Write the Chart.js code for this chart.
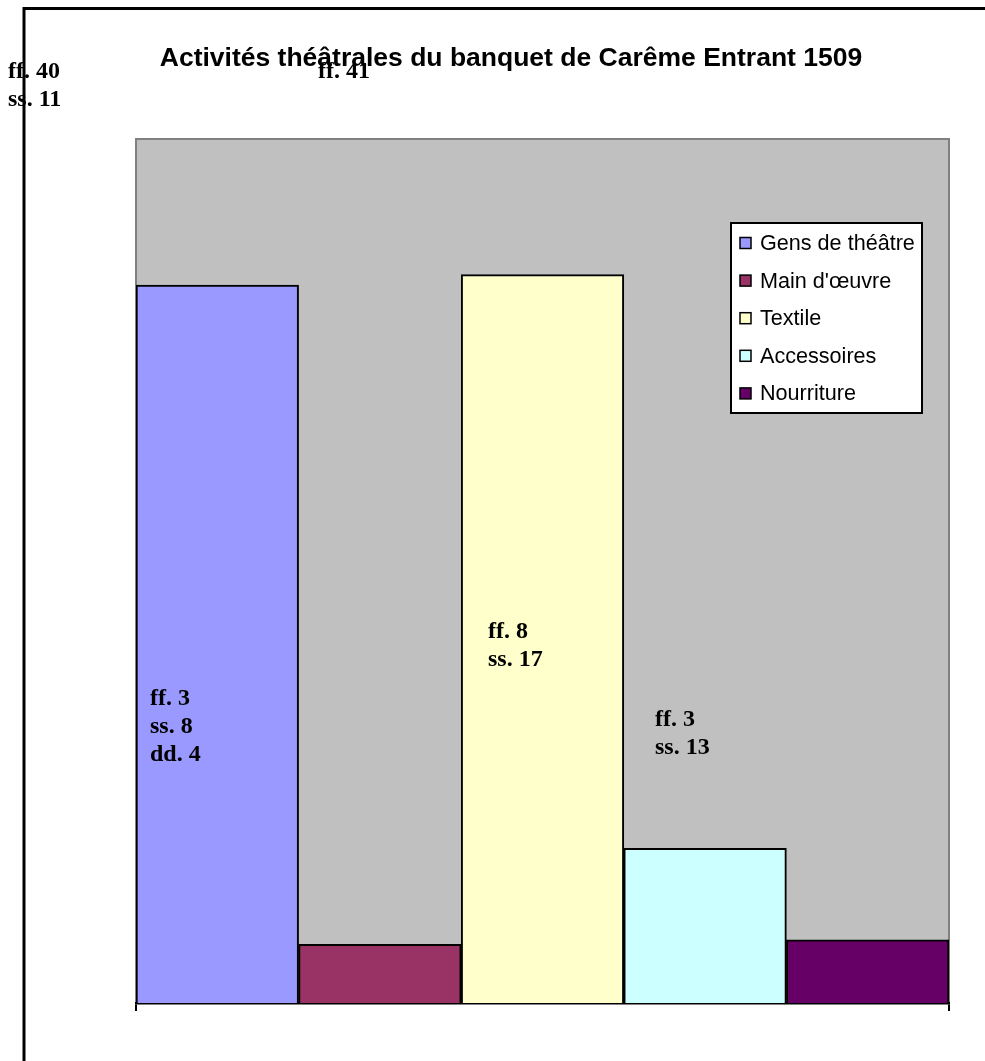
<!DOCTYPE html>
<html>
<head>
<meta charset="utf-8">
<script src="https://cdn.jsdelivr.net/npm/chart.js@4.4.1/dist/chart.umd.min.js"></script>
<style>
  html, body { margin: 0; padding: 0; background: #ffffff; }
  #wrap { position: relative; width: 985px; height: 1061px; }
  canvas { display: block; }
</style>
</head>
<body>
<div id="wrap"><canvas id="c" width="985" height="1061"></canvas></div>
<script>
// ---- data ----
const titleText = "Activités théâtrales du banquet de Carême Entrant 1509";
const categories = [""];
const seriesNames = ["Gens de théâtre", "Main d'œuvre", "Textile", "Accessoires", "Nourriture"];
const seriesValues = [83.1, 6.8, 84.3, 17.9, 7.3];
const seriesColors = ["#9999FF", "#993366", "#FFFFCC", "#CCFFFF", "#660066"];
const yMax = 100;
// free annotations (money amounts written on the chart)
const noteLines = [
  ["ff. 40", "ss. 11"],
  ["ff. 41"],
  ["ff. 3", "ss. 8", "dd. 4"],
  ["ff. 8", "ss. 17"],
  ["ff. 3", "ss. 13"]
];
const notePos = [[8, 78], [318, 78], [150, 705], [488, 638], [655, 726]];

// ---- plugins ----
const frameAndBg = {
  id: 'frameAndBg',
  beforeDraw(chart) {
    const ctx = chart.ctx, a = chart.chartArea;
    ctx.save();
    ctx.fillStyle = '#ffffff';
    ctx.fillRect(0, 0, chart.width, chart.height);
    // plot area
    ctx.fillStyle = '#C0C0C0';
    ctx.fillRect(a.left, a.top, a.right - a.left, a.bottom - a.top);
    ctx.strokeStyle = '#808080';
    ctx.lineWidth = 2;
    ctx.beginPath();
    ctx.moveTo(a.left, a.bottom);
    ctx.lineTo(a.left, a.top);
    ctx.lineTo(a.right, a.top);
    ctx.lineTo(a.right, a.bottom);
    ctx.stroke();
    ctx.restore();
  }
};

const boxLegend = {
  id: 'boxLegend',
  afterDraw(chart) {
    const ctx = chart.ctx;
    const x0 = 731, y0 = 223, w = 191, h = 190;
    ctx.save();
    ctx.fillStyle = '#ffffff';
    ctx.fillRect(x0, y0, w, h);
    ctx.strokeStyle = '#000000';
    ctx.lineWidth = 2;
    ctx.strokeRect(x0, y0, w, h);
    ctx.font = '21.6px "Liberation Sans", Arial, sans-serif';
    ctx.textBaseline = 'middle';
    chart.data.datasets.forEach((ds, i) => {
      const cy = 243 + i * 37.6;
      ctx.fillStyle = ds.backgroundColor;
      ctx.fillRect(740, cy - 5.5, 11, 11);
      ctx.lineWidth = 1.5;
      ctx.strokeStyle = '#000000';
      ctx.strokeRect(740, cy - 5.5, 11, 11);
      ctx.fillStyle = '#000000';
      ctx.fillText(ds.label, 760, cy + 1);
    });
    ctx.restore();
  }
};

const notes = {
  id: 'notes',
  afterDraw(chart) {
    const ctx = chart.ctx;
    ctx.save();
    ctx.fillStyle = '#000000';
    ctx.font = 'bold 24px "Liberation Serif", "Times New Roman", serif';
    ctx.textBaseline = 'alphabetic';
    noteLines.forEach((lines, i) => {
      lines.forEach((t, j) => {
        ctx.fillText(t, notePos[i][0], notePos[i][1] + j * 28);
      });
    });
    // outer frame drawn on top of the notes
    ctx.strokeStyle = '#000000';
    ctx.lineWidth = 3;
    ctx.beginPath();
    ctx.moveTo(24, chart.height + 2);
    ctx.lineTo(24, 8.5);
    ctx.lineTo(chart.width + 2, 8.5);
    ctx.stroke();
    ctx.restore();
  }
};

// ---- chart ----
new Chart(document.getElementById('c'), {
  type: 'bar',
  data: {
    labels: categories,
    datasets: seriesNames.map((n, i) => ({
      label: n,
      data: [seriesValues[i]],
      backgroundColor: seriesColors[i],
      borderColor: '#000000',
      borderWidth: 2,
      barPercentage: 1.0,
      categoryPercentage: 1.0
    }))
  },
  options: {
    responsive: false,
    animation: false,
    devicePixelRatio: 1,
    layout: { padding: { left: 37, right: 0, top: 0, bottom: 50 } },
    plugins: {
      legend: { display: false },
      tooltip: { enabled: false },
      title: {
        display: true,
        text: titleText,
        color: '#000000',
        font: { family: '"Liberation Sans", Arial, sans-serif', size: 26.5, weight: 'bold', lineHeight: 1.2 },
        padding: { top: 43, bottom: 64.2 }
      }
    },
    scales: {
      x: {
        display: true,
        offset: true,
        ticks: { display: false },
        grid: { display: true, drawOnChartArea: false, drawTicks: true, tickLength: 8, color: '#000000', lineWidth: 2, offset: true },
        border: { display: true, color: '#000000', width: 2.5 }
      },
      y: {
        display: true,
        position: 'left',
        min: 0,
        max: yMax,
        ticks: { display: false },
        grid: { display: false, drawTicks: false },
        border: { display: false },
        afterFit(s) { s.width = 99; }
      },
      y2: {
        display: true,
        position: 'right',
        min: 0,
        max: yMax,
        ticks: { display: false },
        grid: { display: false, drawTicks: false },
        border: { display: false },
        afterFit(s) { s.width = 36; }
      }
    }
  },
  plugins: [frameAndBg, boxLegend, notes]
});
</script>
</body>
</html>
